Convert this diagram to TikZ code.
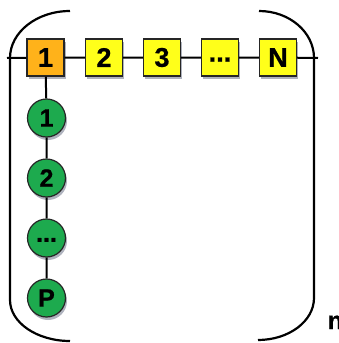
\documentclass[tikz,border=0pt]{standalone}
\usepackage{fontspec}
\setmainfont{Liberation Sans}
\newfontfamily\heavyfont{Liberation Sans Bold}[FakeBold=0.8]
\usetikzlibrary{shadows}
\definecolor{boxorange}{HTML}{FFB21A}
\definecolor{boxyellow}{HTML}{FFFF1A}
\definecolor{ballgreen}{HTML}{1DAA4E}
\definecolor{shadowgray}{HTML}{6E7488}
\tikzset{
  shade/.style={drop shadow={shadow xshift=1.5pt,shadow yshift=-3pt,opacity=0.55,fill=shadowgray}},
  cell/.style={draw=black!85,line width=1.2pt,minimum size=37pt,inner sep=0pt,
    font=\fontsize{27}{27}\heavyfont,shade},
  ball/.style={circle,draw=black!85,line width=1.2pt,minimum size=38pt,inner sep=0pt,
    fill=ballgreen,font=\fontsize{25}{25}\heavyfont,shade},
  link/.style={line width=2pt,black},
  brace/.style={line width=2.2pt,black}
}
\begin{document}
\begin{tikzpicture}[x=1pt,y=-1pt]
  \useasboundingbox (0,0) rectangle (338,343);
  % row of cells
  \coordinate (hl) at (7,58);
  \coordinate (hr) at (318,58);
  \node[cell,fill=boxorange] (b1) at (45.5,57.5) {1};
  \node[cell,fill=boxyellow] (b2) at (104,57.5) {2};
  \node[cell,fill=boxyellow] (b3) at (162,57.5) {3};
  \node[cell,fill=boxyellow] (b4) at (220,57.5) {\raisebox{-0.3em}{...}};
  \node[cell,fill=boxyellow] (bN) at (278,57.5) {N};
  % column of balls
  \node[ball] (c1) at (46.5,118) {1};
  \node[ball] (c2) at (46.5,178) {2};
  \node[ball] (c3) at (46.5,238) {\raisebox{-0.3em}{...}};
  \node[ball] (cP) at (46.5,298) {P};
  % connectors
  \draw[link] (hl) -- (b1) (b1) -- (b2) (b2) -- (b3) (b3) -- (b4) (b4) -- (bN) (bN) -- (hr);
  \draw[link] (b1) -- (c1) (c1) -- (c2) (c2) -- (c3) (c3) -- (cP);
  % brackets
  \draw[brace] (70,11) .. controls (36.9,11) and (10,32.1) .. (10,58)
    -- (10,300) .. controls (10,322.6) and (36.9,341) .. (70,341);
  \draw[brace] (259,11) .. controls (289.4,11) and (314,32.1) .. (314,58)
    -- (314,298) .. controls (314,321.2) and (288.9,340) .. (258,340);
  % size label
  \node[anchor=base west,inner sep=0pt,font=\fontsize{25}{25}\heavyfont] (lbl) at (327.5,329) {n};
\end{tikzpicture}
\end{document}
